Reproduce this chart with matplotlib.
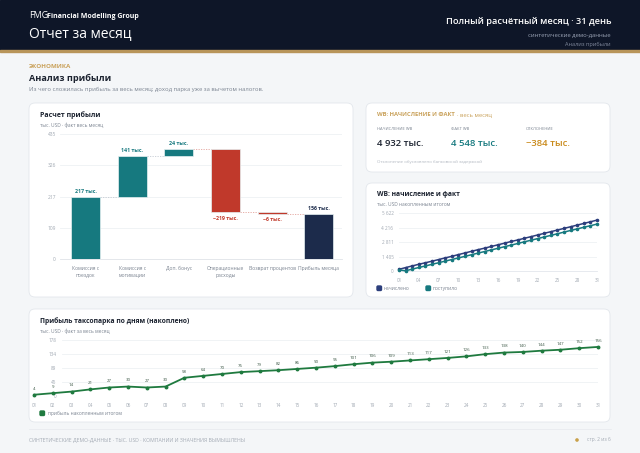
import numpy as np
import matplotlib.pyplot as plt
from matplotlib.patches import FancyBboxPatch, Rectangle, Circle

plt.rcParams['font.family'] = ['Open Sans', 'DejaVu Sans']

W, H = 640, 453

# данные: расчет прибыли (водопад)
wf_labels = ['Комиссия с\nпоездок', 'Комиссия с\nмотивации', 'Доп. бонус',
             'Операционные\nрасходы', 'Возврат процентов', 'Прибыль месяца']
wf_values = [217, 141, 24, -219, -6]
wf_total = 156
wf_ticks = [0, 109, 217, 326, 435]

# данные: прибыль по дням (накоплено)
days = list(range(1, 32))
day_labels = [f'{d:02d}' for d in days]
profit_cum = [4, 9, 14, 21, 27, 30, 27, 30, 58, 64, 70, 76, 79, 82, 86, 90,
              95, 101, 106, 109, 113, 117, 121, 126, 133, 138, 140, 144, 147, 152, 156]
profit_ticks = [0, 45, 89, 134, 178]

# данные: WB начисление и факт (накопленным итогом)
wb_accrued = [160, 330, 490, 650, 800, 950, 1110, 1270, 1420, 1590, 1750, 1910,
              2070, 2220, 2380, 2540, 2700, 2860, 3010, 3170, 3330, 3490, 3650,
              3810, 3970, 4130, 4290, 4450, 4610, 4770, 4932]
wb_received = [110, 20, 180, 340, 490, 650, 800, 960, 1110, 1270, 1420, 1580,
               1740, 1890, 2050, 2200, 2360, 2510, 2670, 2830, 2980, 3140, 3300,
               3450, 3610, 3770, 3930, 4080, 4240, 4390, 4548]
wb_ticks = [0, 1405, 2811, 4216, 5622]
wb_tick_labels = ['0', '1 405', '2 811', '4 216', '5 622']

# цвета
navy_bg = '#0e1628'
gold = '#b8955a'
teal = '#16797f'
red = '#c0392b'
navy = '#1c2b4b'
wb_navy = '#2c3e7c'
green = '#1f7a3f'
dark = '#1c2330'
grey = '#7b8491'
light = '#a0a8b2'

fig = plt.figure(figsize=(6.4, 4.53), dpi=100)
fig.patch.set_facecolor('#f4f6f8')
bg = fig.add_axes([0, 0, 1, 1])
bg.set_xlim(0, W)
bg.set_ylim(H, 0)
bg.axis('off')


def px_axes(x0, y0, x1, y1):
    return fig.add_axes([x0 / W, 1 - y1 / H, (x1 - x0) / W, (y1 - y0) / H])


def card(x0, y0, x1, y1):
    bg.add_patch(FancyBboxPatch((x0, y0), x1 - x0, y1 - y0,
                                boxstyle='round,pad=0,rounding_size=6',
                                fc='white', ec='#e3e7ec', lw=0.6))


# шапка
bg.add_patch(Rectangle((0, 0), W, 50, color=navy_bg))
bg.add_patch(Rectangle((0, 50), W, 1.8, color=gold))
bg.text(29, 16, 'FMG', color='white', fontsize=6.5, va='center')
bg.text(47, 16, 'Financial Modelling Group', color='white', fontsize=5, va='center', fontweight='bold')
bg.text(29, 34, 'Отчет за месяц', color='white', fontsize=10, va='center')
bg.text(611, 21, 'Полный расчётный месяц · 31 день', color='white', fontsize=6.7,
        va='center', ha='right', fontweight='semibold')
bg.text(611, 35, 'синтетические демо-данные', color='#9aa3b5', fontsize=4.2, va='center', ha='right')
bg.text(611, 44, 'Анализ прибыли', color='#7f889b', fontsize=4, va='center', ha='right')

# заголовок раздела
bg.text(29, 67, 'ЭКОНОМИКА', color='#c9a15a', fontsize=4.5, va='center', fontweight='bold')
bg.text(29, 78, 'Анализ прибыли', color=dark, fontsize=6.6, va='center', fontweight='bold')
bg.text(29, 89, 'Из чего сложилась прибыль за весь месяц; доход парка уже за вычетом налогов.',
        color=grey, fontsize=4.2, va='center')

# карточки
card(29, 103, 353, 297)
card(366, 103, 610, 172)
card(366, 183, 610, 297)
card(29, 309, 610, 422)

# карточка 1: водопад
bg.text(40, 115, 'Расчет прибыли', color=dark, fontsize=5.0, va='center', fontweight='bold')
bg.text(40, 125, 'тыс. USD · факт весь месяц', color=grey, fontsize=3.5, va='center')

ax = px_axes(60, 134, 342, 259)
ends = np.cumsum(wf_values)
starts = ends - np.array(wf_values)
bottoms = list(np.minimum(starts, ends)) + [0]
heights = list(np.abs(wf_values)) + [wf_total]
colors = [teal if v > 0 else red for v in wf_values] + [navy]
x = np.arange(len(wf_labels))
ax.bar(x, heights, bottom=bottoms, width=0.62, color=colors,
       edgecolor='#e6f1f2', linewidth=0.5, zorder=3)
for i in range(len(wf_values)):
    c = '#c5cbd3' if i < 2 else '#e3a49c'
    ax.plot([i + 0.31, i + 0.69], [ends[i], ends[i]], ls=(0, (1.5, 1.5)),
            color=c, lw=0.6, zorder=2)
for i, v in enumerate(wf_values + [wf_total]):
    top = bottoms[i] + heights[i]
    txt = f'{v} тыс.'.replace('-', '−')
    if i == len(wf_values):
        ax.annotate(txt, (i, top), xytext=(0, 2), textcoords='offset points',
                    ha='center', va='bottom', fontsize=3.8, color=navy, fontweight='bold')
    elif v > 0:
        ax.annotate(txt, (i, top), xytext=(0, 2), textcoords='offset points',
                    ha='center', va='bottom', fontsize=3.8, color=teal, fontweight='bold')
    else:
        ax.annotate(txt, (i, bottoms[i]), xytext=(0, -2.5), textcoords='offset points',
                    ha='center', va='top', fontsize=3.8, color=red, fontweight='bold')
ax.set_xlim(-0.55, 5.5)
ax.set_ylim(0, 435)
ax.set_yticks(wf_ticks)
ax.set_yticklabels([str(t) for t in wf_ticks])
ax.set_xticks(x)
ax.set_xticklabels(wf_labels, linespacing=1.4)
ax.tick_params(axis='y', length=0, labelsize=3.5, labelcolor=light, pad=3)
ax.tick_params(axis='x', length=0, labelsize=3.6, labelcolor=grey, pad=5)
ax.yaxis.grid(True, color='#eef1f4', lw=0.6)
ax.set_axisbelow(True)
for s in ['top', 'right', 'left']:
    ax.spines[s].set_visible(False)
ax.spines['bottom'].set_color('#dfe3e8')
ax.spines['bottom'].set_linewidth(0.6)
ax.patch.set_alpha(0)

# карточка 2: KPI
kpi_head = bg.text(377, 115, 'WB: НАЧИСЛЕНИЕ И ФАКТ', color='#c9a15a', fontsize=4.2,
                   va='center', fontweight='bold')
fig.canvas.draw()
bb = kpi_head.get_window_extent()
bg.text(bb.x1 + 2, 115, '· весь месяц', color='#c9a15a', fontsize=4.2, va='center')
bg.text(377, 129, 'НАЧИСЛЕНИЕ WB', color=grey, fontsize=3, va='center')
bg.text(451, 129, 'ФАКТ WB', color=grey, fontsize=3, va='center')
bg.text(526, 129, 'ОТКЛОНЕНИЕ', color=grey, fontsize=3, va='center')
bg.text(377, 143, '4 932 тыс.', color=dark, fontsize=6.8, va='center', fontweight='semibold')
bg.text(451, 143, '4 548 тыс.', color=teal, fontsize=6.8, va='center', fontweight='semibold')
bg.text(526, 143, '−384 тыс.', color='#c98a1b', fontsize=6.8, va='center', fontweight='semibold')
bg.text(377, 162, 'Отклонение обусловлено банковской задержкой', color='#b2b8c1', fontsize=3.2, va='center')

# карточка 3: WB линии
bg.text(377, 194, 'WB: начисление и факт', color=dark, fontsize=4.9, va='center', fontweight='bold')
bg.text(377, 204, 'тыс. USD накопленным итогом', color=grey, fontsize=3.5, va='center')

ax2 = px_axes(399, 213, 597, 271)
ax2.plot(days, wb_accrued, color=wb_navy, lw=1.1, marker='o', ms=1.6, zorder=3, clip_on=False)
ax2.plot(days, wb_received, color=teal, lw=1.1, marker='o', ms=1.6, zorder=3, clip_on=False)
ax2.set_xlim(1, 31)
ax2.set_ylim(0, 5622)
ax2.set_yticks(wb_ticks)
ax2.set_yticklabels(wb_tick_labels)
ax2.set_xticks(days[::3])
ax2.set_xticklabels(day_labels[::3])
ax2.tick_params(axis='y', length=0, labelsize=3.3, labelcolor=light, pad=4)
ax2.tick_params(axis='x', length=0, labelsize=3.3, labelcolor=light, pad=5)
ax2.yaxis.grid(True, color='#eef1f4', lw=0.6)
ax2.set_axisbelow(True)
for s in ['top', 'right', 'left']:
    ax2.spines[s].set_visible(False)
ax2.spines['bottom'].set_color('#e3e7ec')
ax2.spines['bottom'].set_linewidth(0.6)
ax2.patch.set_alpha(0)

bg.add_patch(FancyBboxPatch((377, 286), 4.5, 4.5, boxstyle='round,pad=0,rounding_size=1', color=wb_navy))
bg.text(384, 288.3, 'начислено', color=grey, fontsize=3.5, va='center')
bg.add_patch(FancyBboxPatch((426, 286), 4.5, 4.5, boxstyle='round,pad=0,rounding_size=1', color=teal))
bg.text(433, 288.3, 'поступило', color=grey, fontsize=3.5, va='center')

# карточка 4: прибыль по дням
bg.text(40, 321, 'Прибыль таксопарка по дням (накоплено)', color=dark, fontsize=4.9,
        va='center', fontweight='bold')
bg.text(40, 331, 'тыс. USD · факт за весь месяц', color=grey, fontsize=3.5, va='center')

ax3 = px_axes(34, 340, 598, 396)
grid_start = (62 - 34) / (598 - 34)
for t in profit_ticks[1:]:
    ax3.axhline(t, xmin=grid_start, color='#eef1f4', lw=0.6, zorder=1)
ax3.axhline(0, xmin=grid_start, color='#dfe3e8', lw=0.6, zorder=1)
ax3.plot(days, profit_cum, color=green, lw=1.3, marker='o', ms=1.8, zorder=3, clip_on=False)
for d, v in zip(days, profit_cum):
    ax3.annotate(str(v), (d, v), xytext=(0, 3), textcoords='offset points',
                 ha='center', va='bottom', fontsize=3.2, color='#3e5a48')
ax3.set_xlim(1, 31)
ax3.set_ylim(0, 178)
ax3.set_yticks(profit_ticks)
ax3.set_yticklabels([str(t) for t in profit_ticks])
ax3.set_xticks(days)
ax3.set_xticklabels(day_labels)
ax3.tick_params(axis='y', length=0, labelsize=3.3, labelcolor=light, pad=-16)
ax3.tick_params(axis='x', length=0, labelsize=3.3, labelcolor=light, pad=5)
for s in ax3.spines.values():
    s.set_visible(False)
ax3.patch.set_alpha(0)

bg.add_patch(FancyBboxPatch((40, 411), 4.5, 4.5, boxstyle='round,pad=0,rounding_size=1', color=green))
bg.text(48, 413.3, 'прибыль накопленным итогом', color=grey, fontsize=3.5, va='center')

# подвал
bg.plot([29, 611], [429, 429], color='#e6e9ed', lw=0.5)
bg.text(29, 440, 'СИНТЕТИЧЕСКИЕ ДЕМО-ДАННЫЕ · ТЫС. USD · КОМПАНИИ И ЗНАЧЕНИЯ ВЫМЫШЛЕНЫ',
        color='#a3aab4', fontsize=3.7, va='center')
bg.add_patch(Circle((577, 440), 1.1, color='#c9a14a'))
bg.text(611, 440, 'стр. 2 из 6', color='#a3aab4', fontsize=3.5, va='center', ha='right')

fig.savefig('out.png', dpi=100, facecolor=fig.get_facecolor())
